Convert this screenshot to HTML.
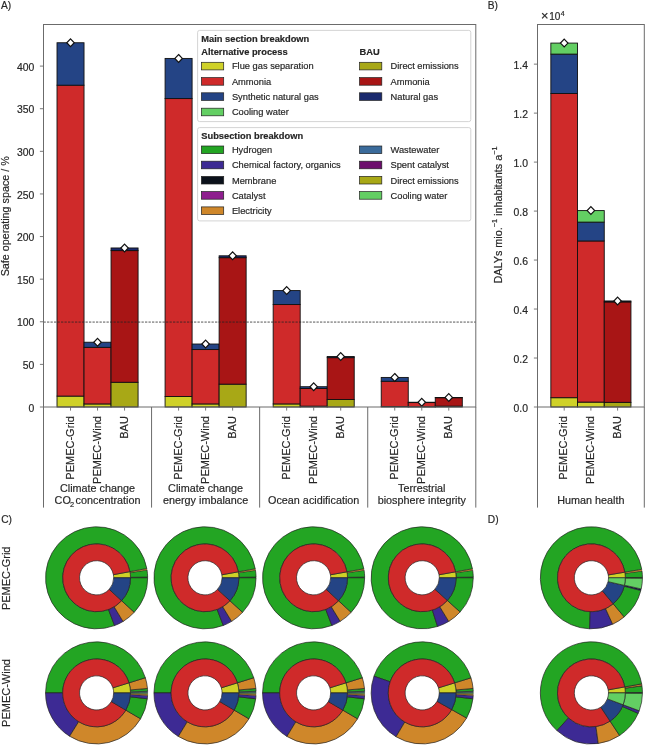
<!DOCTYPE html>
<html><head><meta charset="utf-8"><title>Safe operating space</title>
<style>html,body{margin:0;padding:0;background:#fff;font-family:"Liberation Sans",sans-serif;}body{width:645px;height:745px;overflow:hidden;}svg{display:block;will-change:transform;}text{stroke:#262626;stroke-width:0.18px;}</style>
</head><body>
<svg width="645" height="745" viewBox="0 0 645 745" font-family="'Liberation Sans', sans-serif" fill="#262626">
<text x="1" y="9.2" font-size="10.2" text-anchor="start">A)</text>
<text x="487.8" y="9.2" font-size="10.2" text-anchor="start">B)</text>
<text x="1.2" y="523.4" font-size="10.2" text-anchor="start">C)</text>
<text x="487.8" y="523.4" font-size="10.2" text-anchor="start">D)</text>
<rect x="57.01" y="396.09" width="27.02" height="10.91" fill="#cfd128" stroke="#111" stroke-width="0.9"/>
<rect x="57.01" y="85.19" width="27.02" height="310.9" fill="#cf2a2a" stroke="#111" stroke-width="0.9"/>
<rect x="57.01" y="42.75" width="27.02" height="42.44" fill="#244485" stroke="#111" stroke-width="0.9"/>
<path d="M70.52 38.85L74.27 42.75L70.52 46.65L66.77 42.75Z" fill="#fff" stroke="#111" stroke-width="1.2"/>
<rect x="84.03" y="403.93" width="27.02" height="3.07" fill="#cfd128" stroke="#111" stroke-width="0.9"/>
<rect x="84.03" y="347.34" width="27.02" height="56.59" fill="#cf2a2a" stroke="#111" stroke-width="0.9"/>
<rect x="84.03" y="342.23" width="27.02" height="5.11" fill="#244485" stroke="#111" stroke-width="0.9"/>
<path d="M97.54 338.33L101.29 342.23L97.54 346.13L93.79 342.23Z" fill="#fff" stroke="#111" stroke-width="1.2"/>
<rect x="111.05" y="382.28" width="27.02" height="24.72" fill="#a8a816" stroke="#111" stroke-width="0.9"/>
<rect x="111.05" y="250.61" width="27.02" height="131.67" fill="#a81515" stroke="#111" stroke-width="0.9"/>
<rect x="111.05" y="247.97" width="27.02" height="2.64" fill="#1a2a6e" stroke="#111" stroke-width="0.9"/>
<path d="M124.56 244.07L128.31 247.97L124.56 251.87L120.81 247.97Z" fill="#fff" stroke="#111" stroke-width="1.2"/>
<rect x="165.08" y="396.52" width="27.02" height="10.48" fill="#cfd128" stroke="#111" stroke-width="0.9"/>
<rect x="165.08" y="98.57" width="27.02" height="297.95" fill="#cf2a2a" stroke="#111" stroke-width="0.9"/>
<rect x="165.08" y="58.43" width="27.02" height="40.14" fill="#244485" stroke="#111" stroke-width="0.9"/>
<path d="M178.59 54.53L182.34 58.43L178.59 62.33L174.84 58.43Z" fill="#fff" stroke="#111" stroke-width="1.2"/>
<rect x="192.1" y="403.93" width="27.02" height="3.07" fill="#cfd128" stroke="#111" stroke-width="0.9"/>
<rect x="192.1" y="349.56" width="27.02" height="54.37" fill="#cf2a2a" stroke="#111" stroke-width="0.9"/>
<rect x="192.1" y="344.02" width="27.02" height="5.54" fill="#244485" stroke="#111" stroke-width="0.9"/>
<path d="M205.61 340.12L209.36 344.02L205.61 347.92L201.86 344.02Z" fill="#fff" stroke="#111" stroke-width="1.2"/>
<rect x="219.12" y="384.16" width="27.02" height="22.84" fill="#a8a816" stroke="#111" stroke-width="0.9"/>
<rect x="219.12" y="257.69" width="27.02" height="126.47" fill="#a81515" stroke="#111" stroke-width="0.9"/>
<rect x="219.12" y="255.81" width="27.02" height="1.87" fill="#1a2a6e" stroke="#111" stroke-width="0.9"/>
<path d="M232.63 251.91L236.38 255.81L232.63 259.71L228.88 255.81Z" fill="#fff" stroke="#111" stroke-width="1.2"/>
<rect x="273.16" y="403.93" width="27.02" height="3.07" fill="#cfd128" stroke="#111" stroke-width="0.9"/>
<rect x="273.16" y="304.56" width="27.02" height="99.37" fill="#cf2a2a" stroke="#111" stroke-width="0.9"/>
<rect x="273.16" y="290.58" width="27.02" height="13.98" fill="#244485" stroke="#111" stroke-width="0.9"/>
<path d="M286.67 286.68L290.42 290.58L286.67 294.48L282.92 290.58Z" fill="#fff" stroke="#111" stroke-width="1.2"/>
<rect x="300.18" y="406.15" width="27.02" height="0.85" fill="#cfd128" stroke="#111" stroke-width="0.9"/>
<rect x="300.18" y="388.51" width="27.02" height="17.64" fill="#cf2a2a" stroke="#111" stroke-width="0.9"/>
<rect x="300.18" y="386.72" width="27.02" height="1.79" fill="#244485" stroke="#111" stroke-width="0.9"/>
<path d="M313.69 382.82L317.44 386.72L313.69 390.62L309.94 386.72Z" fill="#fff" stroke="#111" stroke-width="1.2"/>
<rect x="327.2" y="399.5" width="27.02" height="7.5" fill="#a8a816" stroke="#111" stroke-width="0.9"/>
<rect x="327.2" y="357.65" width="27.02" height="41.85" fill="#a81515" stroke="#111" stroke-width="0.9"/>
<rect x="327.2" y="356.55" width="27.02" height="1.11" fill="#1a2a6e" stroke="#111" stroke-width="0.9"/>
<path d="M340.71 352.65L344.46 356.55L340.71 360.45L336.96 356.55Z" fill="#fff" stroke="#111" stroke-width="1.2"/>
<rect x="381.23" y="406.57" width="27.02" height="0.43" fill="#cfd128" stroke="#111" stroke-width="0.9"/>
<rect x="381.23" y="381.26" width="27.02" height="25.31" fill="#cf2a2a" stroke="#111" stroke-width="0.9"/>
<rect x="381.23" y="377.43" width="27.02" height="3.84" fill="#244485" stroke="#111" stroke-width="0.9"/>
<path d="M394.74 373.53L398.49 377.43L394.74 381.33L390.99 377.43Z" fill="#fff" stroke="#111" stroke-width="1.2"/>
<rect x="408.25" y="406.74" width="27.02" height="0.26" fill="#cfd128" stroke="#111" stroke-width="0.9"/>
<rect x="408.25" y="402.57" width="27.02" height="4.18" fill="#cf2a2a" stroke="#111" stroke-width="0.9"/>
<rect x="408.25" y="402.23" width="27.02" height="0.34" fill="#244485" stroke="#111" stroke-width="0.9"/>
<path d="M421.76 398.33L425.51 402.23L421.76 406.13L418.01 402.23Z" fill="#fff" stroke="#111" stroke-width="1.2"/>
<rect x="435.27" y="406.15" width="27.02" height="0.85" fill="#a8a816" stroke="#111" stroke-width="0.9"/>
<rect x="435.27" y="397.71" width="27.02" height="8.44" fill="#a81515" stroke="#111" stroke-width="0.9"/>
<rect x="435.27" y="397.45" width="27.02" height="0.26" fill="#1a2a6e" stroke="#111" stroke-width="0.9"/>
<path d="M448.78 393.55L452.53 397.45L448.78 401.35L445.03 397.45Z" fill="#fff" stroke="#111" stroke-width="1.2"/>
<line x1="43.5" y1="322.07" x2="475.8" y2="322.07" stroke="#222" stroke-width="0.85" stroke-dasharray="2.3,1.2" opacity="0.9"/>
<rect x="43.5" y="24.5" width="432.3" height="382.5" fill="none" stroke="#6b6b6b" stroke-width="1"/>
<line x1="43.5" y1="407" x2="43.5" y2="507.6" stroke="#6b6b6b" stroke-width="1"/>
<line x1="151.57" y1="407" x2="151.57" y2="507.6" stroke="#6b6b6b" stroke-width="1"/>
<line x1="259.65" y1="407" x2="259.65" y2="507.6" stroke="#6b6b6b" stroke-width="1"/>
<line x1="367.73" y1="407" x2="367.73" y2="507.6" stroke="#6b6b6b" stroke-width="1"/>
<line x1="475.8" y1="407" x2="475.8" y2="507.6" stroke="#6b6b6b" stroke-width="1"/>
<line x1="39.9" y1="407" x2="43.5" y2="407" stroke="#6b6b6b" stroke-width="0.9"/>
<text x="34.3" y="411.6" font-size="10.4" text-anchor="end">0</text>
<line x1="39.9" y1="364.39" x2="43.5" y2="364.39" stroke="#6b6b6b" stroke-width="0.9"/>
<text x="34.3" y="368.99" font-size="10.4" text-anchor="end">50</text>
<line x1="39.9" y1="321.77" x2="43.5" y2="321.77" stroke="#6b6b6b" stroke-width="0.9"/>
<text x="34.3" y="326.38" font-size="10.4" text-anchor="end">100</text>
<line x1="39.9" y1="279.16" x2="43.5" y2="279.16" stroke="#6b6b6b" stroke-width="0.9"/>
<text x="34.3" y="283.76" font-size="10.4" text-anchor="end">150</text>
<line x1="39.9" y1="236.55" x2="43.5" y2="236.55" stroke="#6b6b6b" stroke-width="0.9"/>
<text x="34.3" y="241.15" font-size="10.4" text-anchor="end">200</text>
<line x1="39.9" y1="193.94" x2="43.5" y2="193.94" stroke="#6b6b6b" stroke-width="0.9"/>
<text x="34.3" y="198.54" font-size="10.4" text-anchor="end">250</text>
<line x1="39.9" y1="151.33" x2="43.5" y2="151.33" stroke="#6b6b6b" stroke-width="0.9"/>
<text x="34.3" y="155.93" font-size="10.4" text-anchor="end">300</text>
<line x1="39.9" y1="108.71" x2="43.5" y2="108.71" stroke="#6b6b6b" stroke-width="0.9"/>
<text x="34.3" y="113.31" font-size="10.4" text-anchor="end">350</text>
<line x1="39.9" y1="66.1" x2="43.5" y2="66.1" stroke="#6b6b6b" stroke-width="0.9"/>
<text x="34.3" y="70.7" font-size="10.4" text-anchor="end">400</text>
<line x1="70.52" y1="407" x2="70.52" y2="410.6" stroke="#6b6b6b" stroke-width="0.9"/>
<text x="73.62" y="416.1" font-size="11.0" text-anchor="end" transform="rotate(-90 73.62 416.1)">PEMEC-Grid</text>
<line x1="97.54" y1="407" x2="97.54" y2="410.6" stroke="#6b6b6b" stroke-width="0.9"/>
<text x="100.64" y="416.1" font-size="11.0" text-anchor="end" transform="rotate(-90 100.64 416.1)">PEMEC-Wind</text>
<line x1="124.56" y1="407" x2="124.56" y2="410.6" stroke="#6b6b6b" stroke-width="0.9"/>
<text x="127.66" y="416.1" font-size="11.0" text-anchor="end" transform="rotate(-90 127.66 416.1)">BAU</text>
<line x1="178.59" y1="407" x2="178.59" y2="410.6" stroke="#6b6b6b" stroke-width="0.9"/>
<text x="181.69" y="416.1" font-size="11.0" text-anchor="end" transform="rotate(-90 181.69 416.1)">PEMEC-Grid</text>
<line x1="205.61" y1="407" x2="205.61" y2="410.6" stroke="#6b6b6b" stroke-width="0.9"/>
<text x="208.71" y="416.1" font-size="11.0" text-anchor="end" transform="rotate(-90 208.71 416.1)">PEMEC-Wind</text>
<line x1="232.63" y1="407" x2="232.63" y2="410.6" stroke="#6b6b6b" stroke-width="0.9"/>
<text x="235.73" y="416.1" font-size="11.0" text-anchor="end" transform="rotate(-90 235.73 416.1)">BAU</text>
<line x1="286.67" y1="407" x2="286.67" y2="410.6" stroke="#6b6b6b" stroke-width="0.9"/>
<text x="289.77" y="416.1" font-size="11.0" text-anchor="end" transform="rotate(-90 289.77 416.1)">PEMEC-Grid</text>
<line x1="313.69" y1="407" x2="313.69" y2="410.6" stroke="#6b6b6b" stroke-width="0.9"/>
<text x="316.79" y="416.1" font-size="11.0" text-anchor="end" transform="rotate(-90 316.79 416.1)">PEMEC-Wind</text>
<line x1="340.71" y1="407" x2="340.71" y2="410.6" stroke="#6b6b6b" stroke-width="0.9"/>
<text x="343.81" y="416.1" font-size="11.0" text-anchor="end" transform="rotate(-90 343.81 416.1)">BAU</text>
<line x1="394.74" y1="407" x2="394.74" y2="410.6" stroke="#6b6b6b" stroke-width="0.9"/>
<text x="397.84" y="416.1" font-size="11.0" text-anchor="end" transform="rotate(-90 397.84 416.1)">PEMEC-Grid</text>
<line x1="421.76" y1="407" x2="421.76" y2="410.6" stroke="#6b6b6b" stroke-width="0.9"/>
<text x="424.86" y="416.1" font-size="11.0" text-anchor="end" transform="rotate(-90 424.86 416.1)">PEMEC-Wind</text>
<line x1="448.78" y1="407" x2="448.78" y2="410.6" stroke="#6b6b6b" stroke-width="0.9"/>
<text x="451.88" y="416.1" font-size="11.0" text-anchor="end" transform="rotate(-90 451.88 416.1)">BAU</text>
<text x="9.5" y="216.3" font-size="10.75" text-anchor="middle" transform="rotate(-90 9.5 216.3)">Safe operating space / %</text>
<text x="97.54" y="492.3" font-size="10.8" text-anchor="middle">Climate change</text>
<text x="54.6" y="504" font-size="10.8" text-anchor="start">CO</text>
<text x="69.9" y="506.6" font-size="7.4" text-anchor="start">2</text>
<text x="75.6" y="504" font-size="10.8" text-anchor="start">concentration</text>
<text x="205.61" y="492.3" font-size="10.8" text-anchor="middle">Climate change</text>
<text x="205.61" y="504" font-size="10.8" text-anchor="middle">energy imbalance</text>
<text x="313.69" y="504" font-size="10.8" text-anchor="middle">Ocean acidification</text>
<text x="421.76" y="492.3" font-size="10.8" text-anchor="middle">Terrestrial</text>
<text x="421.76" y="504" font-size="10.8" text-anchor="middle">biosphere integrity</text>
<rect x="197.6" y="30.4" width="273.2" height="91.2" rx="2" ry="2" fill="#fff" stroke="#cfcfcf" stroke-width="0.9"/>
<text x="201.3" y="41.9" font-size="9.3" text-anchor="start" font-weight="bold">Main section breakdown</text>
<text x="201.3" y="55.4" font-size="9.3" text-anchor="start" font-weight="bold">Alternative process</text>
<text x="359.5" y="55.4" font-size="9.3" text-anchor="start" font-weight="bold">BAU</text>
<rect x="201.4" y="62.3" width="22.3" height="7.6" fill="#cfd128" stroke="#222" stroke-width="0.7"/>
<text x="231.9" y="69.4" font-size="9.3" text-anchor="start">Flue gas separation</text>
<rect x="201.4" y="77.6" width="22.3" height="7.6" fill="#cf2a2a" stroke="#222" stroke-width="0.7"/>
<text x="231.9" y="84.7" font-size="9.3" text-anchor="start">Ammonia</text>
<rect x="201.4" y="92.8" width="22.3" height="7.6" fill="#244485" stroke="#222" stroke-width="0.7"/>
<text x="231.9" y="99.9" font-size="9.3" text-anchor="start">Synthetic natural gas</text>
<rect x="201.4" y="108.2" width="22.3" height="7.6" fill="#63cf63" stroke="#222" stroke-width="0.7"/>
<text x="231.9" y="115.3" font-size="9.3" text-anchor="start">Cooling water</text>
<rect x="359.5" y="62.3" width="22.3" height="7.6" fill="#a8a816" stroke="#222" stroke-width="0.7"/>
<text x="390.5" y="69.4" font-size="9.3" text-anchor="start">Direct emissions</text>
<rect x="359.5" y="77.6" width="22.3" height="7.6" fill="#a81515" stroke="#222" stroke-width="0.7"/>
<text x="390.5" y="84.7" font-size="9.3" text-anchor="start">Ammonia</text>
<rect x="359.5" y="92.8" width="22.3" height="7.6" fill="#1a2a6e" stroke="#222" stroke-width="0.7"/>
<text x="390.5" y="99.9" font-size="9.3" text-anchor="start">Natural gas</text>
<rect x="197.6" y="127.6" width="273.2" height="93.3" rx="2" ry="2" fill="#fff" stroke="#cfcfcf" stroke-width="0.9"/>
<text x="201.3" y="139.1" font-size="9.3" text-anchor="start" font-weight="bold">Subsection breakdown</text>
<rect x="201.4" y="146" width="22.3" height="7.6" fill="#23a523" stroke="#222" stroke-width="0.7"/>
<text x="231.9" y="153.1" font-size="9.3" text-anchor="start">Hydrogen</text>
<rect x="201.4" y="161.2" width="22.3" height="7.6" fill="#3d2a94" stroke="#222" stroke-width="0.7"/>
<text x="231.9" y="168.3" font-size="9.3" text-anchor="start">Chemical factory, organics</text>
<rect x="201.4" y="176.4" width="22.3" height="7.6" fill="#0b111b" stroke="#222" stroke-width="0.7"/>
<text x="231.9" y="183.5" font-size="9.3" text-anchor="start">Membrane</text>
<rect x="201.4" y="191.6" width="22.3" height="7.6" fill="#8e1e8e" stroke="#222" stroke-width="0.7"/>
<text x="231.9" y="198.7" font-size="9.3" text-anchor="start">Catalyst</text>
<rect x="201.4" y="206.9" width="22.3" height="7.6" fill="#cf872a" stroke="#222" stroke-width="0.7"/>
<text x="231.9" y="214" font-size="9.3" text-anchor="start">Electricity</text>
<rect x="359.5" y="146" width="22.3" height="7.6" fill="#3b6b9b" stroke="#222" stroke-width="0.7"/>
<text x="390.5" y="153.1" font-size="9.3" text-anchor="start">Wastewater</text>
<rect x="359.5" y="161.2" width="22.3" height="7.6" fill="#6c0c6c" stroke="#222" stroke-width="0.7"/>
<text x="390.5" y="168.3" font-size="9.3" text-anchor="start">Spent catalyst</text>
<rect x="359.5" y="176.4" width="22.3" height="7.6" fill="#a8a816" stroke="#222" stroke-width="0.7"/>
<text x="390.5" y="183.5" font-size="9.3" text-anchor="start">Direct emissions</text>
<rect x="359.5" y="191.6" width="22.3" height="7.6" fill="#63cf63" stroke="#222" stroke-width="0.7"/>
<text x="390.5" y="198.7" font-size="9.3" text-anchor="start">Cooling water</text>
<rect x="550.85" y="397.69" width="26.7" height="9.31" fill="#cfd128" stroke="#111" stroke-width="0.9"/>
<rect x="550.85" y="93.53" width="26.7" height="304.17" fill="#cf2a2a" stroke="#111" stroke-width="0.9"/>
<rect x="550.85" y="54.1" width="26.7" height="39.43" fill="#244485" stroke="#111" stroke-width="0.9"/>
<rect x="550.85" y="43.08" width="26.7" height="11.02" fill="#63cf63" stroke="#111" stroke-width="0.9"/>
<path d="M564.2 39.18L567.95 43.08L564.2 46.98L560.45 43.08Z" fill="#fff" stroke="#111" stroke-width="1.2"/>
<rect x="577.55" y="402.1" width="26.7" height="4.9" fill="#cfd128" stroke="#111" stroke-width="0.9"/>
<rect x="577.55" y="240.96" width="26.7" height="161.14" fill="#cf2a2a" stroke="#111" stroke-width="0.9"/>
<rect x="577.55" y="222.1" width="26.7" height="18.86" fill="#244485" stroke="#111" stroke-width="0.9"/>
<rect x="577.55" y="210.59" width="26.7" height="11.51" fill="#63cf63" stroke="#111" stroke-width="0.9"/>
<path d="M590.9 206.69L594.65 210.59L590.9 214.49L587.15 210.59Z" fill="#fff" stroke="#111" stroke-width="1.2"/>
<rect x="604.25" y="402.35" width="26.7" height="4.65" fill="#a8a816" stroke="#111" stroke-width="0.9"/>
<rect x="604.25" y="301.94" width="26.7" height="100.41" fill="#a81515" stroke="#111" stroke-width="0.9"/>
<rect x="604.25" y="300.96" width="26.7" height="0.98" fill="#1a2a6e" stroke="#111" stroke-width="0.9"/>
<path d="M617.6 297.06L621.35 300.96L617.6 304.86L613.85 300.96Z" fill="#fff" stroke="#111" stroke-width="1.2"/>
<rect x="537.5" y="24.5" width="106.8" height="382.5" fill="none" stroke="#6b6b6b" stroke-width="1"/>
<line x1="537.5" y1="407" x2="537.5" y2="507.6" stroke="#6b6b6b" stroke-width="1"/>
<line x1="644.3" y1="407" x2="644.3" y2="507.6" stroke="#6b6b6b" stroke-width="1"/>
<line x1="533.9" y1="407" x2="537.5" y2="407" stroke="#6b6b6b" stroke-width="0.9"/>
<text x="528" y="411.6" font-size="10.4" text-anchor="end">0.0</text>
<line x1="533.9" y1="358.02" x2="537.5" y2="358.02" stroke="#6b6b6b" stroke-width="0.9"/>
<text x="528" y="362.62" font-size="10.4" text-anchor="end">0.2</text>
<line x1="533.9" y1="309.04" x2="537.5" y2="309.04" stroke="#6b6b6b" stroke-width="0.9"/>
<text x="528" y="313.64" font-size="10.4" text-anchor="end">0.4</text>
<line x1="533.9" y1="260.06" x2="537.5" y2="260.06" stroke="#6b6b6b" stroke-width="0.9"/>
<text x="528" y="264.66" font-size="10.4" text-anchor="end">0.6</text>
<line x1="533.9" y1="211.08" x2="537.5" y2="211.08" stroke="#6b6b6b" stroke-width="0.9"/>
<text x="528" y="215.68" font-size="10.4" text-anchor="end">0.8</text>
<line x1="533.9" y1="162.1" x2="537.5" y2="162.1" stroke="#6b6b6b" stroke-width="0.9"/>
<text x="528" y="166.7" font-size="10.4" text-anchor="end">1.0</text>
<line x1="533.9" y1="113.12" x2="537.5" y2="113.12" stroke="#6b6b6b" stroke-width="0.9"/>
<text x="528" y="117.72" font-size="10.4" text-anchor="end">1.2</text>
<line x1="533.9" y1="64.14" x2="537.5" y2="64.14" stroke="#6b6b6b" stroke-width="0.9"/>
<text x="528" y="68.74" font-size="10.4" text-anchor="end">1.4</text>
<line x1="564.2" y1="407" x2="564.2" y2="410.6" stroke="#6b6b6b" stroke-width="0.9"/>
<text x="567.3" y="416.1" font-size="11.0" text-anchor="end" transform="rotate(-90 567.3 416.1)">PEMEC-Grid</text>
<line x1="590.9" y1="407" x2="590.9" y2="410.6" stroke="#6b6b6b" stroke-width="0.9"/>
<text x="594" y="416.1" font-size="11.0" text-anchor="end" transform="rotate(-90 594 416.1)">PEMEC-Wind</text>
<line x1="617.6" y1="407" x2="617.6" y2="410.6" stroke="#6b6b6b" stroke-width="0.9"/>
<text x="620.7" y="416.1" font-size="11.0" text-anchor="end" transform="rotate(-90 620.7 416.1)">BAU</text>
<text x="590.9" y="503.6" font-size="10.8" text-anchor="middle">Human health</text>
<text x="501.6" y="215" font-size="10.8" text-anchor="middle" transform="rotate(-90 501.6 215)">DALYs mio.<tspan font-size="7.2" dy="-4.2">−1</tspan><tspan dy="4.2"> inhabitants a</tspan><tspan font-size="7.2" dy="-4.2">−1</tspan></text>
<text x="540.9" y="19.9" font-size="12.8" text-anchor="start">×</text>
<text x="549.3" y="19.8" font-size="10.0" text-anchor="start">10</text>
<text x="560.8" y="15.9" font-size="6.9" text-anchor="start">4</text>
<path d="M147.65 577.8A51.05 51.05 0 0 0 147.65 577.09L130.5 577.33A33.9 33.9 0 0 1 130.5 577.8Z" fill="#0b111b" stroke="#222" stroke-width="0.3" stroke-linejoin="round"/>
<path d="M147.65 577.09A51.05 51.05 0 0 0 147.05 569.99L130.1 572.61A33.9 33.9 0 0 1 130.5 577.33Z" fill="#23a523" stroke="#222" stroke-width="0.7" stroke-linejoin="round"/>
<path d="M147.05 569.99A51.05 51.05 0 0 0 146.8 568.5L129.93 571.62A33.9 33.9 0 0 1 130.1 572.61Z" fill="#cf872a" stroke="#222" stroke-width="0.3" stroke-linejoin="round"/>
<path d="M146.8 568.5A51.05 51.05 0 1 0 114.56 625.59L108.53 609.53A33.9 33.9 0 1 1 129.93 571.62Z" fill="#23a523" stroke="#222" stroke-width="0.7" stroke-linejoin="round"/>
<path d="M114.56 625.59A51.05 51.05 0 0 0 123.05 621.47L114.16 606.8A33.9 33.9 0 0 1 108.53 609.53Z" fill="#3d2a94" stroke="#222" stroke-width="0.7" stroke-linejoin="round"/>
<path d="M123.05 621.47A51.05 51.05 0 0 0 134.24 612.29L121.59 600.7A33.9 33.9 0 0 1 114.16 606.8Z" fill="#cf872a" stroke="#222" stroke-width="0.7" stroke-linejoin="round"/>
<path d="M134.24 612.29A51.05 51.05 0 0 0 147.65 577.8L130.5 577.8A33.9 33.9 0 0 1 121.59 600.7Z" fill="#23a523" stroke="#222" stroke-width="0.7" stroke-linejoin="round"/>
<path d="M130.5 577.8A33.9 33.9 0 0 0 129.93 571.62L113.41 574.68A17.1 17.1 0 0 1 113.7 577.8Z" fill="#cfd128" stroke="#222" stroke-width="0.7" stroke-linejoin="round"/>
<path d="M129.93 571.62A33.9 33.9 0 1 0 121.59 600.7L109.21 589.35A17.1 17.1 0 1 1 113.41 574.68Z" fill="#cf2a2a" stroke="#222" stroke-width="0.7" stroke-linejoin="round"/>
<path d="M121.59 600.7A33.9 33.9 0 0 0 130.5 577.8L113.7 577.8A17.1 17.1 0 0 1 109.21 589.35Z" fill="#244485" stroke="#222" stroke-width="0.7" stroke-linejoin="round"/>
<path d="M256.05 577.8A51.05 51.05 0 0 0 256.05 577.09L238.9 577.33A33.9 33.9 0 0 1 238.9 577.8Z" fill="#0b111b" stroke="#222" stroke-width="0.3" stroke-linejoin="round"/>
<path d="M256.05 577.09A51.05 51.05 0 0 0 255.49 570.25L238.53 572.79A33.9 33.9 0 0 1 238.9 577.33Z" fill="#23a523" stroke="#222" stroke-width="0.7" stroke-linejoin="round"/>
<path d="M255.49 570.25A51.05 51.05 0 0 0 255.24 568.76L238.36 571.8A33.9 33.9 0 0 1 238.53 572.79Z" fill="#cf872a" stroke="#222" stroke-width="0.3" stroke-linejoin="round"/>
<path d="M255.24 568.76A51.05 51.05 0 1 0 223.29 625.46L217.15 609.45A33.9 33.9 0 1 1 238.36 571.8Z" fill="#23a523" stroke="#222" stroke-width="0.7" stroke-linejoin="round"/>
<path d="M223.29 625.46A51.05 51.05 0 0 0 231.6 621.37L222.66 606.74A33.9 33.9 0 0 1 217.15 609.45Z" fill="#3d2a94" stroke="#222" stroke-width="0.7" stroke-linejoin="round"/>
<path d="M231.6 621.37A51.05 51.05 0 0 0 242.58 612.35L229.95 600.75A33.9 33.9 0 0 1 222.66 606.74Z" fill="#cf872a" stroke="#222" stroke-width="0.7" stroke-linejoin="round"/>
<path d="M242.58 612.35A51.05 51.05 0 0 0 256.05 577.8L238.9 577.8A33.9 33.9 0 0 1 229.95 600.75Z" fill="#23a523" stroke="#222" stroke-width="0.7" stroke-linejoin="round"/>
<path d="M238.9 577.8A33.9 33.9 0 0 0 238.36 571.8L221.83 574.77A17.1 17.1 0 0 1 222.1 577.8Z" fill="#cfd128" stroke="#222" stroke-width="0.7" stroke-linejoin="round"/>
<path d="M238.36 571.8A33.9 33.9 0 1 0 229.95 600.75L217.59 589.37A17.1 17.1 0 1 1 221.83 574.77Z" fill="#cf2a2a" stroke="#222" stroke-width="0.7" stroke-linejoin="round"/>
<path d="M229.95 600.75A33.9 33.9 0 0 0 238.9 577.8L222.1 577.8A17.1 17.1 0 0 1 217.59 589.37Z" fill="#244485" stroke="#222" stroke-width="0.7" stroke-linejoin="round"/>
<path d="M364.65 577.8A51.05 51.05 0 0 0 364.65 577.09L347.5 577.33A33.9 33.9 0 0 1 347.5 577.8Z" fill="#0b111b" stroke="#222" stroke-width="0.3" stroke-linejoin="round"/>
<path d="M364.65 577.09A51.05 51.05 0 0 0 364.09 570.25L347.13 572.79A33.9 33.9 0 0 1 347.5 577.33Z" fill="#23a523" stroke="#222" stroke-width="0.7" stroke-linejoin="round"/>
<path d="M364.09 570.25A51.05 51.05 0 0 0 363.84 568.76L346.96 571.8A33.9 33.9 0 0 1 347.13 572.79Z" fill="#cf872a" stroke="#222" stroke-width="0.3" stroke-linejoin="round"/>
<path d="M363.84 568.76A51.05 51.05 0 1 0 331.89 625.46L325.75 609.45A33.9 33.9 0 1 1 346.96 571.8Z" fill="#23a523" stroke="#222" stroke-width="0.7" stroke-linejoin="round"/>
<path d="M331.89 625.46A51.05 51.05 0 0 0 340.2 621.37L331.26 606.74A33.9 33.9 0 0 1 325.75 609.45Z" fill="#3d2a94" stroke="#222" stroke-width="0.7" stroke-linejoin="round"/>
<path d="M340.2 621.37A51.05 51.05 0 0 0 351.18 612.35L338.55 600.75A33.9 33.9 0 0 1 331.26 606.74Z" fill="#cf872a" stroke="#222" stroke-width="0.7" stroke-linejoin="round"/>
<path d="M351.18 612.35A51.05 51.05 0 0 0 364.65 577.8L347.5 577.8A33.9 33.9 0 0 1 338.55 600.75Z" fill="#23a523" stroke="#222" stroke-width="0.7" stroke-linejoin="round"/>
<path d="M347.5 577.8A33.9 33.9 0 0 0 346.96 571.8L330.43 574.77A17.1 17.1 0 0 1 330.7 577.8Z" fill="#cfd128" stroke="#222" stroke-width="0.7" stroke-linejoin="round"/>
<path d="M346.96 571.8A33.9 33.9 0 1 0 338.55 600.75L326.19 589.37A17.1 17.1 0 1 1 330.43 574.77Z" fill="#cf2a2a" stroke="#222" stroke-width="0.7" stroke-linejoin="round"/>
<path d="M338.55 600.75A33.9 33.9 0 0 0 347.5 577.8L330.7 577.8A17.1 17.1 0 0 1 326.19 589.37Z" fill="#244485" stroke="#222" stroke-width="0.7" stroke-linejoin="round"/>
<path d="M473.25 577.8A51.05 51.05 0 0 0 473.25 577.09L456.1 577.33A33.9 33.9 0 0 1 456.1 577.8Z" fill="#0b111b" stroke="#222" stroke-width="0.3" stroke-linejoin="round"/>
<path d="M473.25 577.09A51.05 51.05 0 0 0 472.69 570.25L455.73 572.79A33.9 33.9 0 0 1 456.1 577.33Z" fill="#23a523" stroke="#222" stroke-width="0.7" stroke-linejoin="round"/>
<path d="M472.69 570.25A51.05 51.05 0 0 0 472.44 568.76L455.56 571.8A33.9 33.9 0 0 1 455.73 572.79Z" fill="#cf872a" stroke="#222" stroke-width="0.3" stroke-linejoin="round"/>
<path d="M472.44 568.76A51.05 51.05 0 1 0 437.55 626.49L432.39 610.13A33.9 33.9 0 1 1 455.56 571.8Z" fill="#23a523" stroke="#222" stroke-width="0.7" stroke-linejoin="round"/>
<path d="M437.55 626.49A51.05 51.05 0 0 0 448.72 621.42L439.81 606.77A33.9 33.9 0 0 1 432.39 610.13Z" fill="#3d2a94" stroke="#222" stroke-width="0.7" stroke-linejoin="round"/>
<path d="M448.72 621.42A51.05 51.05 0 0 0 460.14 611.96L447.39 600.48A33.9 33.9 0 0 1 439.81 606.77Z" fill="#cf872a" stroke="#222" stroke-width="0.7" stroke-linejoin="round"/>
<path d="M460.14 611.96A51.05 51.05 0 0 0 473.25 577.8L456.1 577.8A33.9 33.9 0 0 1 447.39 600.48Z" fill="#23a523" stroke="#222" stroke-width="0.7" stroke-linejoin="round"/>
<path d="M456.1 577.8A33.9 33.9 0 0 0 455.56 571.8L439.03 574.77A17.1 17.1 0 0 1 439.3 577.8Z" fill="#cfd128" stroke="#222" stroke-width="0.7" stroke-linejoin="round"/>
<path d="M455.56 571.8A33.9 33.9 0 1 0 447.39 600.48L434.91 589.24A17.1 17.1 0 1 1 439.03 574.77Z" fill="#cf2a2a" stroke="#222" stroke-width="0.7" stroke-linejoin="round"/>
<path d="M447.39 600.48A33.9 33.9 0 0 0 456.1 577.8L439.3 577.8A17.1 17.1 0 0 1 434.91 589.24Z" fill="#244485" stroke="#222" stroke-width="0.7" stroke-linejoin="round"/>
<path d="M147.65 692.9A51.05 51.05 0 0 0 147.65 692.45L130.5 692.6A33.9 33.9 0 0 1 130.5 692.9Z" fill="#63cf63" stroke="#222" stroke-width="0.3" stroke-linejoin="round"/>
<path d="M147.65 692.45A51.05 51.05 0 0 0 147.62 691.3L130.48 691.84A33.9 33.9 0 0 1 130.5 692.6Z" fill="#3b6b9b" stroke="#222" stroke-width="0.3" stroke-linejoin="round"/>
<path d="M147.62 691.3A51.05 51.05 0 0 0 147.46 688.45L130.37 689.95A33.9 33.9 0 0 1 130.48 691.84Z" fill="#23a523" stroke="#222" stroke-width="0.7" stroke-linejoin="round"/>
<path d="M147.46 688.45A51.05 51.05 0 0 0 145.34 677.72L128.97 682.82A33.9 33.9 0 0 1 130.37 689.95Z" fill="#cf872a" stroke="#222" stroke-width="0.7" stroke-linejoin="round"/>
<path d="M145.34 677.72A51.05 51.05 0 0 0 45.55 692.9L62.7 692.9A33.9 33.9 0 0 1 128.97 682.82Z" fill="#23a523" stroke="#222" stroke-width="0.7" stroke-linejoin="round"/>
<path d="M45.55 692.9A51.05 51.05 0 0 0 69.62 736.24L78.69 721.68A33.9 33.9 0 0 1 62.7 692.9Z" fill="#3d2a94" stroke="#222" stroke-width="0.7" stroke-linejoin="round"/>
<path d="M69.62 736.24A51.05 51.05 0 0 0 140.59 718.81L125.81 710.11A33.9 33.9 0 0 1 78.69 721.68Z" fill="#cf872a" stroke="#222" stroke-width="0.7" stroke-linejoin="round"/>
<path d="M140.59 718.81A51.05 51.05 0 0 0 147.31 698.77L130.28 696.8A33.9 33.9 0 0 1 125.81 710.11Z" fill="#23a523" stroke="#222" stroke-width="0.7" stroke-linejoin="round"/>
<path d="M147.31 698.77A51.05 51.05 0 0 0 147.59 695.39L130.46 694.56A33.9 33.9 0 0 1 130.28 696.8Z" fill="#3d2a94" stroke="#222" stroke-width="0.7" stroke-linejoin="round"/>
<path d="M147.59 695.39A51.05 51.05 0 0 0 147.63 694.33L130.49 693.85A33.9 33.9 0 0 1 130.46 694.56Z" fill="#cf872a" stroke="#222" stroke-width="0.3" stroke-linejoin="round"/>
<path d="M147.63 694.33A51.05 51.05 0 0 0 147.65 693.61L130.5 693.37A33.9 33.9 0 0 1 130.49 693.85Z" fill="#a8a816" stroke="#222" stroke-width="0.3" stroke-linejoin="round"/>
<path d="M147.65 693.61A51.05 51.05 0 0 0 147.65 692.9L130.5 692.9A33.9 33.9 0 0 1 130.5 693.37Z" fill="#63cf63" stroke="#222" stroke-width="0.3" stroke-linejoin="round"/>
<path d="M130.5 692.9A33.9 33.9 0 0 0 128.97 682.82L112.93 687.81A17.1 17.1 0 0 1 113.7 692.9Z" fill="#cfd128" stroke="#222" stroke-width="0.7" stroke-linejoin="round"/>
<path d="M128.97 682.82A33.9 33.9 0 1 0 125.81 710.11L111.33 701.58A17.1 17.1 0 1 1 112.93 687.81Z" fill="#cf2a2a" stroke="#222" stroke-width="0.7" stroke-linejoin="round"/>
<path d="M125.81 710.11A33.9 33.9 0 0 0 130.5 692.9L113.7 692.9A17.1 17.1 0 0 1 111.33 701.58Z" fill="#244485" stroke="#222" stroke-width="0.7" stroke-linejoin="round"/>
<path d="M256.05 692.9A51.05 51.05 0 0 0 256.05 692.45L238.9 692.6A33.9 33.9 0 0 1 238.9 692.9Z" fill="#63cf63" stroke="#222" stroke-width="0.3" stroke-linejoin="round"/>
<path d="M256.05 692.45A51.05 51.05 0 0 0 256.02 691.3L238.88 691.84A33.9 33.9 0 0 1 238.9 692.6Z" fill="#3b6b9b" stroke="#222" stroke-width="0.3" stroke-linejoin="round"/>
<path d="M256.02 691.3A51.05 51.05 0 0 0 255.86 688.45L238.77 689.95A33.9 33.9 0 0 1 238.88 691.84Z" fill="#23a523" stroke="#222" stroke-width="0.7" stroke-linejoin="round"/>
<path d="M255.86 688.45A51.05 51.05 0 0 0 253.74 677.72L237.37 682.82A33.9 33.9 0 0 1 238.77 689.95Z" fill="#cf872a" stroke="#222" stroke-width="0.7" stroke-linejoin="round"/>
<path d="M253.74 677.72A51.05 51.05 0 0 0 153.95 692.9L171.1 692.9A33.9 33.9 0 0 1 237.37 682.82Z" fill="#23a523" stroke="#222" stroke-width="0.7" stroke-linejoin="round"/>
<path d="M153.95 692.9A51.05 51.05 0 0 0 178.33 736.43L187.29 721.8A33.9 33.9 0 0 1 171.1 692.9Z" fill="#3d2a94" stroke="#222" stroke-width="0.7" stroke-linejoin="round"/>
<path d="M178.33 736.43A51.05 51.05 0 0 0 248.99 718.81L234.21 710.11A33.9 33.9 0 0 1 187.29 721.8Z" fill="#cf872a" stroke="#222" stroke-width="0.7" stroke-linejoin="round"/>
<path d="M248.99 718.81A51.05 51.05 0 0 0 255.71 698.77L238.68 696.8A33.9 33.9 0 0 1 234.21 710.11Z" fill="#23a523" stroke="#222" stroke-width="0.7" stroke-linejoin="round"/>
<path d="M255.71 698.77A51.05 51.05 0 0 0 255.99 695.39L238.86 694.56A33.9 33.9 0 0 1 238.68 696.8Z" fill="#3d2a94" stroke="#222" stroke-width="0.7" stroke-linejoin="round"/>
<path d="M255.99 695.39A51.05 51.05 0 0 0 256.03 694.33L238.89 693.85A33.9 33.9 0 0 1 238.86 694.56Z" fill="#cf872a" stroke="#222" stroke-width="0.3" stroke-linejoin="round"/>
<path d="M256.03 694.33A51.05 51.05 0 0 0 256.05 693.61L238.9 693.37A33.9 33.9 0 0 1 238.89 693.85Z" fill="#a8a816" stroke="#222" stroke-width="0.3" stroke-linejoin="round"/>
<path d="M256.05 693.61A51.05 51.05 0 0 0 256.05 692.9L238.9 692.9A33.9 33.9 0 0 1 238.9 693.37Z" fill="#63cf63" stroke="#222" stroke-width="0.3" stroke-linejoin="round"/>
<path d="M238.9 692.9A33.9 33.9 0 0 0 237.37 682.82L221.33 687.81A17.1 17.1 0 0 1 222.1 692.9Z" fill="#cfd128" stroke="#222" stroke-width="0.7" stroke-linejoin="round"/>
<path d="M237.37 682.82A33.9 33.9 0 1 0 234.21 710.11L219.73 701.58A17.1 17.1 0 1 1 221.33 687.81Z" fill="#cf2a2a" stroke="#222" stroke-width="0.7" stroke-linejoin="round"/>
<path d="M234.21 710.11A33.9 33.9 0 0 0 238.9 692.9L222.1 692.9A17.1 17.1 0 0 1 219.73 701.58Z" fill="#244485" stroke="#222" stroke-width="0.7" stroke-linejoin="round"/>
<path d="M364.65 692.9A51.05 51.05 0 0 0 364.65 692.45L347.5 692.6A33.9 33.9 0 0 1 347.5 692.9Z" fill="#63cf63" stroke="#222" stroke-width="0.3" stroke-linejoin="round"/>
<path d="M364.65 692.45A51.05 51.05 0 0 0 364.62 691.3L347.48 691.84A33.9 33.9 0 0 1 347.5 692.6Z" fill="#3b6b9b" stroke="#222" stroke-width="0.3" stroke-linejoin="round"/>
<path d="M364.62 691.3A51.05 51.05 0 0 0 364.46 688.45L347.37 689.95A33.9 33.9 0 0 1 347.48 691.84Z" fill="#23a523" stroke="#222" stroke-width="0.7" stroke-linejoin="round"/>
<path d="M364.46 688.45A51.05 51.05 0 0 0 362.34 677.72L345.97 682.82A33.9 33.9 0 0 1 347.37 689.95Z" fill="#cf872a" stroke="#222" stroke-width="0.7" stroke-linejoin="round"/>
<path d="M362.34 677.72A51.05 51.05 0 0 0 262.55 692.9L279.7 692.9A33.9 33.9 0 0 1 345.97 682.82Z" fill="#23a523" stroke="#222" stroke-width="0.7" stroke-linejoin="round"/>
<path d="M262.55 692.9A51.05 51.05 0 0 0 286.93 736.43L295.89 721.8A33.9 33.9 0 0 1 279.7 692.9Z" fill="#3d2a94" stroke="#222" stroke-width="0.7" stroke-linejoin="round"/>
<path d="M286.93 736.43A51.05 51.05 0 0 0 357.59 718.81L342.81 710.11A33.9 33.9 0 0 1 295.89 721.8Z" fill="#cf872a" stroke="#222" stroke-width="0.7" stroke-linejoin="round"/>
<path d="M357.59 718.81A51.05 51.05 0 0 0 364.31 698.77L347.28 696.8A33.9 33.9 0 0 1 342.81 710.11Z" fill="#23a523" stroke="#222" stroke-width="0.7" stroke-linejoin="round"/>
<path d="M364.31 698.77A51.05 51.05 0 0 0 364.59 695.39L347.46 694.56A33.9 33.9 0 0 1 347.28 696.8Z" fill="#3d2a94" stroke="#222" stroke-width="0.7" stroke-linejoin="round"/>
<path d="M364.59 695.39A51.05 51.05 0 0 0 364.63 694.33L347.49 693.85A33.9 33.9 0 0 1 347.46 694.56Z" fill="#cf872a" stroke="#222" stroke-width="0.3" stroke-linejoin="round"/>
<path d="M364.63 694.33A51.05 51.05 0 0 0 364.65 693.61L347.5 693.37A33.9 33.9 0 0 1 347.49 693.85Z" fill="#a8a816" stroke="#222" stroke-width="0.3" stroke-linejoin="round"/>
<path d="M364.65 693.61A51.05 51.05 0 0 0 364.65 692.9L347.5 692.9A33.9 33.9 0 0 1 347.5 693.37Z" fill="#63cf63" stroke="#222" stroke-width="0.3" stroke-linejoin="round"/>
<path d="M347.5 692.9A33.9 33.9 0 0 0 345.97 682.82L329.93 687.81A17.1 17.1 0 0 1 330.7 692.9Z" fill="#cfd128" stroke="#222" stroke-width="0.7" stroke-linejoin="round"/>
<path d="M345.97 682.82A33.9 33.9 0 1 0 342.81 710.11L328.33 701.58A17.1 17.1 0 1 1 329.93 687.81Z" fill="#cf2a2a" stroke="#222" stroke-width="0.7" stroke-linejoin="round"/>
<path d="M342.81 710.11A33.9 33.9 0 0 0 347.5 692.9L330.7 692.9A17.1 17.1 0 0 1 328.33 701.58Z" fill="#244485" stroke="#222" stroke-width="0.7" stroke-linejoin="round"/>
<path d="M473.25 692.9A51.05 51.05 0 0 0 473.25 692.45L456.1 692.6A33.9 33.9 0 0 1 456.1 692.9Z" fill="#63cf63" stroke="#222" stroke-width="0.3" stroke-linejoin="round"/>
<path d="M473.25 692.45A51.05 51.05 0 0 0 473.22 691.3L456.08 691.84A33.9 33.9 0 0 1 456.1 692.6Z" fill="#3b6b9b" stroke="#222" stroke-width="0.3" stroke-linejoin="round"/>
<path d="M473.22 691.3A51.05 51.05 0 0 0 473.06 688.45L455.97 689.95A33.9 33.9 0 0 1 456.08 691.84Z" fill="#23a523" stroke="#222" stroke-width="0.7" stroke-linejoin="round"/>
<path d="M473.06 688.45A51.05 51.05 0 0 0 470.97 677.8L454.58 682.88A33.9 33.9 0 0 1 455.97 689.95Z" fill="#cf872a" stroke="#222" stroke-width="0.7" stroke-linejoin="round"/>
<path d="M470.97 677.8A51.05 51.05 0 0 0 373.96 676.2L390.17 681.81A33.9 33.9 0 0 1 454.58 682.88Z" fill="#23a523" stroke="#222" stroke-width="0.7" stroke-linejoin="round"/>
<path d="M373.96 676.2A51.05 51.05 0 0 0 396.06 736.75L404.84 722.02A33.9 33.9 0 0 1 390.17 681.81Z" fill="#3d2a94" stroke="#222" stroke-width="0.7" stroke-linejoin="round"/>
<path d="M396.06 736.75A51.05 51.05 0 0 0 466.63 718.04L451.71 709.59A33.9 33.9 0 0 1 404.84 722.02Z" fill="#cf872a" stroke="#222" stroke-width="0.7" stroke-linejoin="round"/>
<path d="M466.63 718.04A51.05 51.05 0 0 0 472.91 698.77L455.88 696.8A33.9 33.9 0 0 1 451.71 709.59Z" fill="#23a523" stroke="#222" stroke-width="0.7" stroke-linejoin="round"/>
<path d="M472.91 698.77A51.05 51.05 0 0 0 473.19 695.39L456.06 694.56A33.9 33.9 0 0 1 455.88 696.8Z" fill="#3d2a94" stroke="#222" stroke-width="0.7" stroke-linejoin="round"/>
<path d="M473.19 695.39A51.05 51.05 0 0 0 473.23 694.33L456.09 693.85A33.9 33.9 0 0 1 456.06 694.56Z" fill="#cf872a" stroke="#222" stroke-width="0.3" stroke-linejoin="round"/>
<path d="M473.23 694.33A51.05 51.05 0 0 0 473.25 693.61L456.1 693.37A33.9 33.9 0 0 1 456.09 693.85Z" fill="#a8a816" stroke="#222" stroke-width="0.3" stroke-linejoin="round"/>
<path d="M473.25 693.61A51.05 51.05 0 0 0 473.25 692.9L456.1 692.9A33.9 33.9 0 0 1 456.1 693.37Z" fill="#63cf63" stroke="#222" stroke-width="0.3" stroke-linejoin="round"/>
<path d="M456.1 692.9A33.9 33.9 0 0 0 454.58 682.88L438.54 687.84A17.1 17.1 0 0 1 439.3 692.9Z" fill="#cfd128" stroke="#222" stroke-width="0.7" stroke-linejoin="round"/>
<path d="M454.58 682.88A33.9 33.9 0 1 0 451.71 709.59L437.08 701.32A17.1 17.1 0 1 1 438.54 687.84Z" fill="#cf2a2a" stroke="#222" stroke-width="0.7" stroke-linejoin="round"/>
<path d="M451.71 709.59A33.9 33.9 0 0 0 456.1 692.9L439.3 692.9A17.1 17.1 0 0 1 437.08 701.32Z" fill="#244485" stroke="#222" stroke-width="0.7" stroke-linejoin="round"/>
<path d="M642.45 577.8A51.05 51.05 0 0 0 642.45 577.44L625.3 577.56A33.9 33.9 0 0 1 625.3 577.8Z" fill="#1d5a1d" stroke="#222" stroke-width="0.3" stroke-linejoin="round"/>
<path d="M642.45 577.44A51.05 51.05 0 0 0 642 571.05L625 573.32A33.9 33.9 0 0 1 625.3 577.56Z" fill="#23a523" stroke="#222" stroke-width="0.7" stroke-linejoin="round"/>
<path d="M642 571.05A51.05 51.05 0 0 0 641.74 569.29L624.83 572.15A33.9 33.9 0 0 1 625 573.32Z" fill="#cf872a" stroke="#222" stroke-width="0.3" stroke-linejoin="round"/>
<path d="M641.74 569.29A51.05 51.05 0 1 0 589.62 628.82L590.22 611.68A33.9 33.9 0 1 1 624.83 572.15Z" fill="#23a523" stroke="#222" stroke-width="0.7" stroke-linejoin="round"/>
<path d="M589.62 628.82A51.05 51.05 0 0 0 612.65 624.22L605.51 608.62A33.9 33.9 0 0 1 590.22 611.68Z" fill="#3d2a94" stroke="#222" stroke-width="0.7" stroke-linejoin="round"/>
<path d="M612.65 624.22A51.05 51.05 0 0 0 624.21 616.91L613.19 603.77A33.9 33.9 0 0 1 605.51 608.62Z" fill="#cf872a" stroke="#222" stroke-width="0.7" stroke-linejoin="round"/>
<path d="M624.21 616.91A51.05 51.05 0 0 0 640.85 590.5L624.23 586.23A33.9 33.9 0 0 1 613.19 603.77Z" fill="#23a523" stroke="#222" stroke-width="0.7" stroke-linejoin="round"/>
<path d="M640.85 590.5A51.05 51.05 0 0 0 641.22 588.94L624.48 585.2A33.9 33.9 0 0 1 624.23 586.23Z" fill="#141a40" stroke="#222" stroke-width="0.3" stroke-linejoin="round"/>
<path d="M641.22 588.94A51.05 51.05 0 0 0 642.45 578.16L625.3 578.04A33.9 33.9 0 0 1 624.48 585.2Z" fill="#63cf63" stroke="#222" stroke-width="0.7" stroke-linejoin="round"/>
<path d="M642.45 578.16A51.05 51.05 0 0 0 642.45 577.8L625.3 577.8A33.9 33.9 0 0 1 625.3 578.04Z" fill="#1d5a1d" stroke="#222" stroke-width="0.3" stroke-linejoin="round"/>
<path d="M625.3 577.8A33.9 33.9 0 0 0 624.83 572.15L608.26 574.95A17.1 17.1 0 0 1 608.5 577.8Z" fill="#cfd128" stroke="#222" stroke-width="0.7" stroke-linejoin="round"/>
<path d="M624.83 572.15A33.9 33.9 0 1 0 613.19 603.77L602.39 590.9A17.1 17.1 0 1 1 608.26 574.95Z" fill="#cf2a2a" stroke="#222" stroke-width="0.7" stroke-linejoin="round"/>
<path d="M613.19 603.77A33.9 33.9 0 0 0 624.43 585.43L608.06 581.65A17.1 17.1 0 0 1 602.39 590.9Z" fill="#244485" stroke="#222" stroke-width="0.7" stroke-linejoin="round"/>
<path d="M624.43 585.43A33.9 33.9 0 0 0 625.3 577.8L608.5 577.8A17.1 17.1 0 0 1 608.06 581.65Z" fill="#63cf63" stroke="#222" stroke-width="0.7" stroke-linejoin="round"/>
<path d="M642.45 692.9A51.05 51.05 0 0 0 642.45 692.54L625.3 692.66A33.9 33.9 0 0 1 625.3 692.9Z" fill="#1d5a1d" stroke="#222" stroke-width="0.3" stroke-linejoin="round"/>
<path d="M642.45 692.54A51.05 51.05 0 0 0 641.95 685.8L624.97 688.18A33.9 33.9 0 0 1 625.3 692.66Z" fill="#23a523" stroke="#222" stroke-width="0.7" stroke-linejoin="round"/>
<path d="M641.95 685.8A51.05 51.05 0 0 0 641.64 683.86L624.76 686.9A33.9 33.9 0 0 1 624.97 688.18Z" fill="#cf872a" stroke="#222" stroke-width="0.7" stroke-linejoin="round"/>
<path d="M641.64 683.86A51.05 51.05 0 1 0 556.98 730.6L568.54 717.93A33.9 33.9 0 1 1 624.76 686.9Z" fill="#23a523" stroke="#222" stroke-width="0.7" stroke-linejoin="round"/>
<path d="M556.98 730.6A51.05 51.05 0 0 0 598.24 743.49L595.94 726.49A33.9 33.9 0 0 1 568.54 717.93Z" fill="#3d2a94" stroke="#222" stroke-width="0.7" stroke-linejoin="round"/>
<path d="M598.24 743.49A51.05 51.05 0 0 0 619.58 735.47L610.11 721.17A33.9 33.9 0 0 1 595.94 726.49Z" fill="#cf872a" stroke="#222" stroke-width="0.7" stroke-linejoin="round"/>
<path d="M619.58 735.47A51.05 51.05 0 0 0 638.18 713.34L622.46 706.47A33.9 33.9 0 0 1 610.11 721.17Z" fill="#23a523" stroke="#222" stroke-width="0.7" stroke-linejoin="round"/>
<path d="M638.18 713.34A51.05 51.05 0 0 0 639.22 710.78L623.15 704.77A33.9 33.9 0 0 1 622.46 706.47Z" fill="#3d2a94" stroke="#222" stroke-width="0.7" stroke-linejoin="round"/>
<path d="M639.22 710.78A51.05 51.05 0 0 0 642.45 693.26L625.3 693.14A33.9 33.9 0 0 1 623.15 704.77Z" fill="#63cf63" stroke="#222" stroke-width="0.7" stroke-linejoin="round"/>
<path d="M642.45 693.26A51.05 51.05 0 0 0 642.45 692.9L625.3 692.9A33.9 33.9 0 0 1 625.3 693.14Z" fill="#1d5a1d" stroke="#222" stroke-width="0.3" stroke-linejoin="round"/>
<path d="M625.3 692.9A33.9 33.9 0 0 0 624.76 686.9L608.23 689.87A17.1 17.1 0 0 1 608.5 692.9Z" fill="#cfd128" stroke="#222" stroke-width="0.7" stroke-linejoin="round"/>
<path d="M624.76 686.9A33.9 33.9 0 1 0 610.11 721.17L600.84 707.16A17.1 17.1 0 1 1 608.23 689.87Z" fill="#cf2a2a" stroke="#222" stroke-width="0.7" stroke-linejoin="round"/>
<path d="M610.11 721.17A33.9 33.9 0 0 0 623.15 704.77L607.42 698.89A17.1 17.1 0 0 1 600.84 707.16Z" fill="#244485" stroke="#222" stroke-width="0.7" stroke-linejoin="round"/>
<path d="M623.15 704.77A33.9 33.9 0 0 0 625.3 692.9L608.5 692.9A17.1 17.1 0 0 1 607.42 698.89Z" fill="#63cf63" stroke="#222" stroke-width="0.7" stroke-linejoin="round"/>
<text x="9.6" y="578.3" font-size="11.0" text-anchor="middle" transform="rotate(-90 9.6 578.3)">PEMEC-Grid</text>
<text x="9.6" y="693" font-size="11.0" text-anchor="middle" transform="rotate(-90 9.6 693)">PEMEC-Wind</text>
</svg>
</body></html>
